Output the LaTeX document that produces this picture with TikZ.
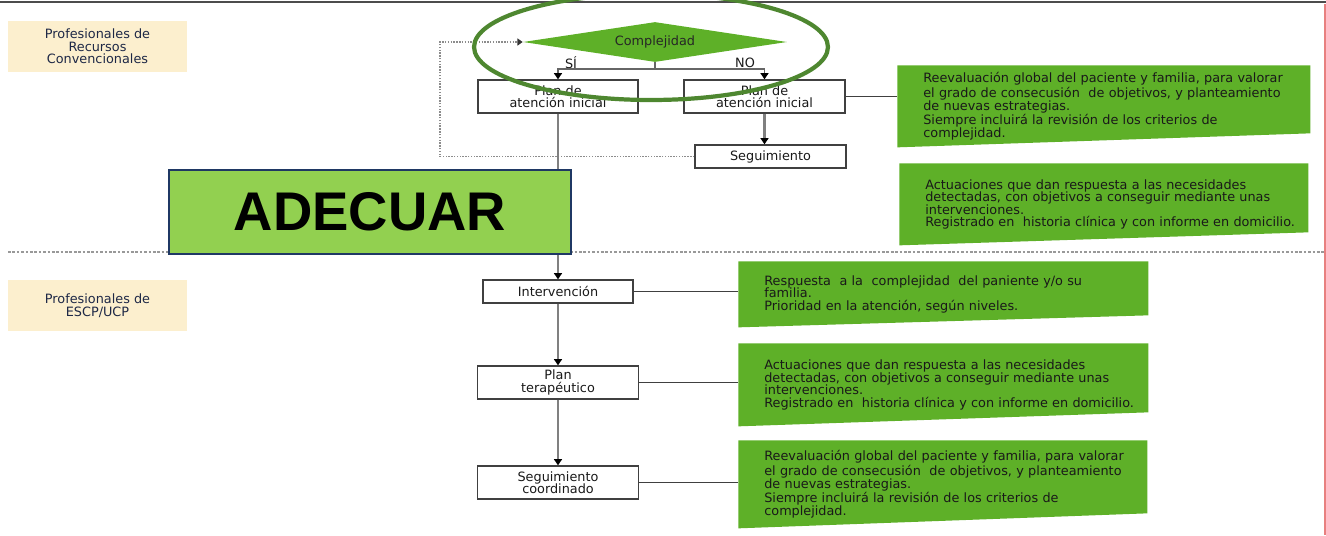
\documentclass[tikz,border=0pt]{standalone}
\usepackage{fontspec}
\setmainfont{DejaVu Sans}
\newfontfamily\bannerfont{Liberation Sans}
\usetikzlibrary{positioning, arrows.meta, calc, shapes.geometric}

\definecolor{leafgreen}{RGB}{94,176,40}
\definecolor{limegreen}{RGB}{146,208,80}
\definecolor{ringgreen}{RGB}{78,135,48}
\definecolor{sandbeige}{RGB}{252,239,206}
\definecolor{navytext}{RGB}{30,40,70}
\definecolor{navyedge}{RGB}{31,56,100}
\definecolor{edgered}{RGB}{232,128,128}

\begin{document}
\begin{tikzpicture}[
  x=0.02cm, y=-0.02cm,
  font=\fontsize{7.3pt}{7.1pt}\selectfont,
  stage/.style={draw=black!75, line width=0.8pt, fill=white, align=center,
    inner sep=0pt, text=black!90},
  rolebox/.style={fill=sandbeige, align=center, inner sep=0pt, text=navytext,
    minimum width=3.58cm, minimum height=1.02cm},
  callout/.style 2 args={anchor=north west, align=left, inner xsep=0.52cm,
    inner ysep=0pt, text=black!90, text width=7.9cm,
    path picture={\fill[leafgreen] (path picture bounding box.north west)
      -- ([xshift=#2]path picture bounding box.north west)
      -- ([xshift=#2, yshift=#1]path picture bounding box.south west)
      -- (path picture bounding box.south west) -- cycle;}},
  flow/.style={draw=black!50, line width=1.7pt,
    -{Triangle[width=4.5pt,length=3.5pt,color=black]}},
  branch/.style={draw=black!60, line width=1pt},
  link/.style={draw=black!75, line width=0.6pt},
  loopback/.style={draw=black!45, line width=0.8pt, dash pattern=on 0.8pt off 0.8pt,
    -{Triangle[width=4pt,length=3pt,color=black!80]}},
]
\clip (0,0) rectangle (1326,535);
\useasboundingbox (0,0) rectangle (1326,535);

% --- Frame lines ---
\draw[black!70, line width=1.2pt] (0,2) -- (1326,2);
\draw[edgered, line width=0.6pt] (1325,4) -- (1325,535);
\draw[black!40, line width=0.6pt, dash pattern=on 1.5pt off 1pt] (8,252) -- (1326,252);

% --- Role labels ---
\node[rolebox] (conv) at (97.5,46.5) {Profesionales de\\Recursos\\Convencionales};
\node[rolebox] (escp) at (97.5,305.5) {Profesionales de\\ESCP/UCP};

% --- Upper flow ---
\node[diamond, fill=leafgreen, shape aspect=6.6, minimum width=5.28cm,
  minimum height=0.8cm, inner sep=0pt, text=black!85] (cmp) at (655,42) {Complejidad};
\node[stage, minimum width=3.2cm, minimum height=0.66cm] (planA) at (558,96.5)
  {Plan de\\atención inicial};
\node[stage, minimum width=3.22cm, minimum height=0.66cm] (planB) at (764.5,96.5)
  {Plan de\\atención inicial};
\node[stage, minimum width=3.02cm, minimum height=0.46cm] (seg) at (770.5,156.5)
  {Seguimiento};

\coordinate (fork) at (655,69);
\coordinate (loop) at (440,0);
\node[text=black!90] (si) at (571,63) {SÍ};
\node[text=black!90] (no) at (745,63) {NO};

\draw[branch] (cmp.south) -- (fork);
\draw[branch, -{Triangle[width=4.5pt,length=3.5pt,color=black]}] (fork) -| (planA.north);
\draw[branch, -{Triangle[width=4.5pt,length=3.5pt,color=black]}] (fork) -| (planB.north);
\draw[flow] (planB.south) -- (planB.south |- seg.north);
\draw[loopback] (seg.west) -- (seg.west -| loop) |- (cmp.west);

% --- Lower flow ---
\node[stage, minimum width=3.0cm, minimum height=0.46cm] (interv) at (558,291.5)
  {Intervención};
\node[stage, minimum width=3.22cm, minimum height=0.66cm] (planT) at (558,382.5)
  {Plan\\terapéutico};
\node[stage, minimum width=3.22cm, minimum height=0.66cm] (segC) at (558,482.5)
  {Seguimiento\\coordinado};

\draw[flow] (planA.south) -- (interv.north);
\draw[flow] (interv.south) -- (planT.north);
\draw[flow] (planT.south) -- (segC.north);

% --- Green notes ---
\node[callout={0.28cm}{8.26cm}, minimum height=1.64cm] (rev) at (897,65)
  {Reevaluación global del paciente y familia, para valorar\\
   el grado de consecusión~ de objetivos, y planteamiento\\
   de nuevas estrategias.\\
   Siempre incluirá la revisión de los criterios de\\
   complejidad.};
\node[callout={0.26cm}{8.18cm}, minimum height=1.64cm] (act) at (899,163)
  {Actuaciones que dan respuesta a las necesidades\\
   detectadas, con objetivos a conseguir mediante unas\\
   intervenciones.\\
   Registrado en~ historia clínica y con informe en domicilio.};
\node[callout={0.24cm}{8.2cm}, minimum height=1.32cm] (resp) at (738,261)
  {Respuesta~ a la~ complejidad~ del paniente y/o su\\
   familia.\\
   Prioridad en la atención, según niveles.};
\node[callout={0.28cm}{8.2cm}, minimum height=1.66cm] (act2) at (738,343)
  {Actuaciones que dan respuesta a las necesidades\\
   detectadas, con objetivos a conseguir mediante unas\\
   intervenciones.\\
   Registrado en~ historia clínica y con informe en domicilio.};
\node[callout={0.3cm}{8.18cm}, minimum height=1.76cm] (rev2) at (738,440)
  {Reevaluación global del paciente y familia, para valorar\\
   el grado de consecusión~ de objetivos, y planteamiento\\
   de nuevas estrategias.\\
   Siempre incluirá la revisión de los criterios de\\
   complejidad.};

\draw[link] (planB.east) -- (planB.east -| rev.west);
\draw[link] (interv.east) -- (interv.east -| resp.west);
\draw[link] (planT.east) -- (planT.east -| act2.west);
\draw[link] (segC.east) -- (segC.east -| rev2.west);

% --- Banner and highlight ---
\node[fill=limegreen, draw=navyedge, line width=1.2pt, minimum width=8.04cm,
  minimum height=1.68cm, inner sep=0pt,
  font=\bannerfont\bfseries\fontsize{31pt}{31pt}\selectfont] (adecuar) at (370,212) {ADECUAR};
\draw[ringgreen, line width=2.4pt] (651,47) ellipse [x radius=3.54cm, y radius=1.06cm];

\end{tikzpicture}
\end{document}
